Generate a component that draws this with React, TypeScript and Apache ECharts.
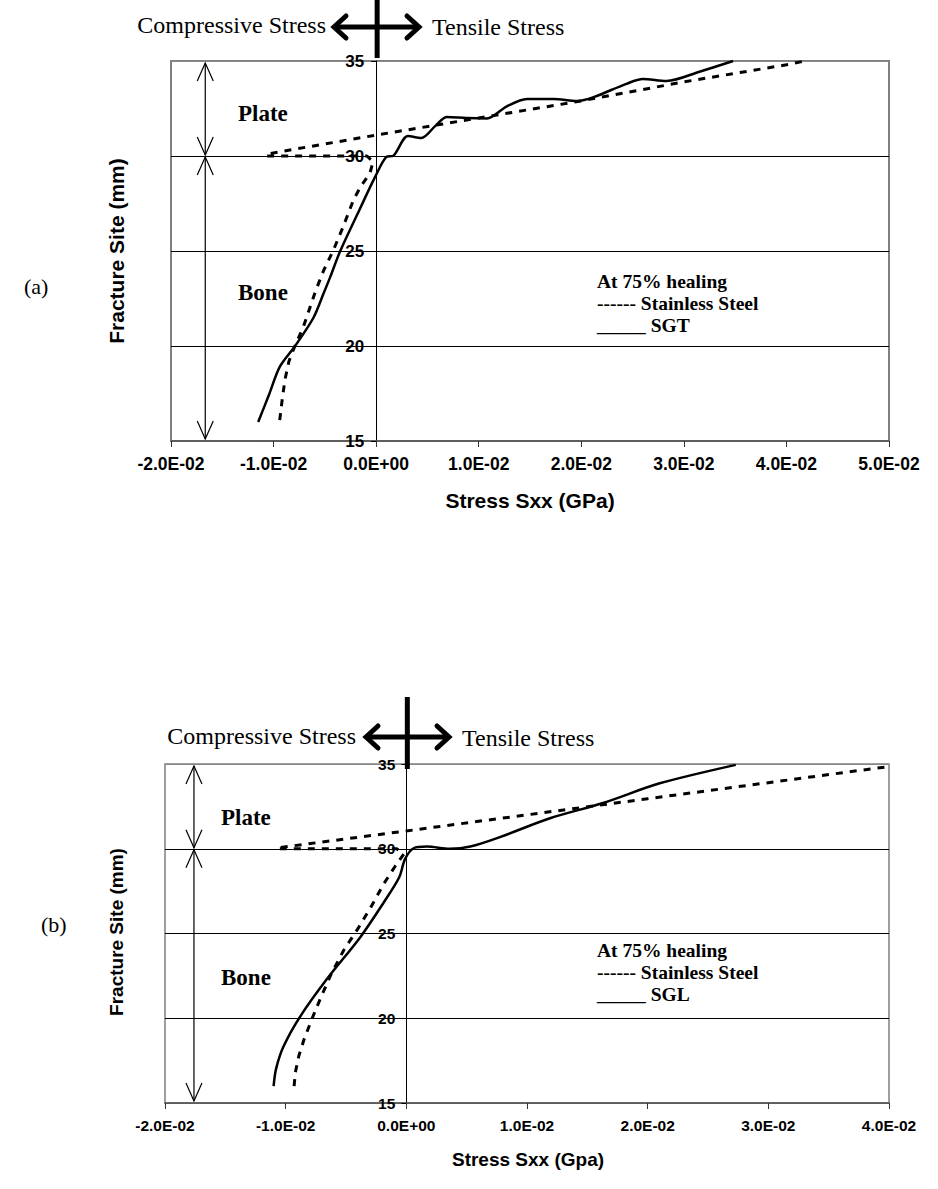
import React, { useEffect, useRef } from "react";
import * as echarts from "echarts";

// ---------- data (stress in GPa, fracture site in mm) ----------
const stainlessA: [number, number][] = [
  [-0.0094, 16.1], [-0.0092, 17.0], [-0.0089, 18.2], [-0.0085, 19.2], [-0.008, 19.9],
  [-0.0071, 21.0], [-0.0059, 22.9], [-0.0051, 24.0], [-0.0042, 25.0], [-0.0032, 26.3],
  [-0.0022, 27.7], [-0.0015, 28.4], [-0.0006, 29.1], [-0.0003, 29.7], [-0.0009, 30.0],
  [-0.0107, 30.0], [-0.0107, 30.1], [0.0, 31.1], [0.01, 32.0], [0.02, 32.9],
  [0.03, 33.9], [0.04, 34.8], [0.0418, 35.0],
];
const sgtA: [number, number][] = [
  [-0.0115, 16.0], [-0.0104, 17.5], [-0.0094, 18.9], [-0.0079, 20.0], [-0.0061, 21.5],
  [-0.0051, 22.8], [-0.0045, 23.6], [-0.0035, 25.0], [-0.0016, 27.2], [-0.0001, 28.9],
  [0.001, 29.95], [0.0017, 30.02], [0.0031, 31.05], [0.0044, 30.95], [0.0058, 31.6],
  [0.0069, 32.05], [0.0088, 32.0], [0.0108, 31.98], [0.0127, 32.6], [0.0147, 33.0],
  [0.0173, 33.0], [0.0196, 32.9], [0.0212, 33.1], [0.0244, 33.8], [0.026, 34.05],
  [0.0283, 33.95], [0.0316, 34.45], [0.0348, 35.0],
];
const stainlessB: [number, number][] = [
  [-0.0093, 16.0], [-0.0092, 16.8], [-0.0089, 17.8], [-0.0085, 18.7], [-0.0078, 20.0],
  [-0.0071, 21.2], [-0.0063, 22.5], [-0.0052, 24.0], [-0.004, 25.3], [-0.0029, 26.6],
  [-0.0019, 27.9], [-0.0009, 29.0], [-0.0002, 29.7], [-0.0008, 30.0], [-0.0107, 30.0],
  [-0.0107, 30.05], [0.0, 31.05], [0.01, 32.0], [0.02, 32.95], [0.03, 33.9], [0.04, 34.85],
];
const sglB: [number, number][] = [
  [-0.011, 16.0], [-0.0108, 17.0], [-0.0102, 18.3], [-0.0088, 20.1], [-0.0066, 22.3],
  [-0.0038, 24.8], [-0.0019, 26.8], [-0.0006, 28.3], [-0.0001, 29.4], [0.0006, 30.03],
  [0.0017, 30.13], [0.0036, 30.0], [0.0053, 30.13], [0.0078, 30.7], [0.0119, 31.8],
  [0.0163, 32.7], [0.021, 33.86], [0.0273, 34.95],
];

const legendA = ["At 75% healing", "------ Stainless Steel", "_____ SGT"];
const legendB = ["At 75% healing", "------ Stainless Steel", "_____ SGL"];
const xTitleA = "Stress Sxx (GPa)";
const xTitleB = "Stress Sxx (Gpa)";
const yTitle = "Fracture Site (mm)";

const SANS = '"Liberation Sans", Arial, sans-serif';
const SERIF = '"Liberation Serif", "Times New Roman", serif';

const fmtExp = (v: number) => {
  const s = v.toExponential(1);
  const [m, e] = s.split("e");
  const sign = e[0] === "-" ? "-" : "+";
  const d = e.replace(/^[+-]/, "").padStart(2, "0");
  return `${m}E${sign}${d}`;
};

const X_MIN = -0.02;
const gridA = { left: 171, top: 61, width: 718, height: 380 };
const gridB = { left: 165, top: 764, width: 724, height: 339 };
const X_MAX_A = 0.05;
const X_MAX_B = 0.04;

function xAxisFor(grid: number, max: number, size: number) {
  return {
    type: "value",
    gridIndex: grid,
    min: X_MIN,
    max,
    interval: 0.01,
    axisLine: { onZero: false, lineStyle: { color: "#555", width: 1.5 } },
    axisTick: { show: true, length: 6, lineStyle: { color: "#333" } },
    splitLine: { show: false },
    axisLabel: {
      formatter: fmtExp,
      color: "#000",
      fontWeight: "bold",
      fontFamily: SANS,
      fontSize: size,
      margin: 14,
    },
  };
}

// y axis shifted so that it sits on stress = 0
function yAxisFor(grid: number, size: number, offset: number, margin: number) {
  return {
    type: "value",
    gridIndex: grid,
    min: 15,
    max: 35,
    interval: 5,
    offset,
    axisLine: { show: true, onZero: false, lineStyle: { color: "#000", width: 1 } },
    axisTick: { show: true, length: 5, lineStyle: { color: "#000" } },
    splitLine: {
      show: true,
      lineStyle: { color: ["#777", "#000", "#000", "#000", "#888"], width: 1 },
    },
    axisLabel: {
      color: "#000",
      fontWeight: "bold",
      fontFamily: SANS,
      fontSize: size,
      margin,
    },
  };
}

const zeroOffset = (g: { width: number }, max: number) => -((0 - X_MIN) / (max - X_MIN)) * g.width;

const solidStyle = { color: "#000", width: 2.5, type: "solid" };
const dashStyle = { color: "#000", width: 3, type: [7, 7] };

export default function App() {
  const ref = useRef<HTMLDivElement>(null);

  useEffect(() => {
    if (!ref.current) return;
    const chart = echarts.init(ref.current, undefined, { renderer: "svg" });
    chart.setOption({
      animation: false,
      backgroundColor: "#fff",
      grid: [
        { ...gridA, show: true, borderColor: "#808080", borderWidth: 2, backgroundColor: "transparent" },
        { ...gridB, show: true, borderColor: "#808080", borderWidth: 1.5, backgroundColor: "transparent" },
      ],
      xAxis: [xAxisFor(0, X_MAX_A, 17.5), xAxisFor(1, X_MAX_B, 15.5)],
      yAxis: [
        yAxisFor(0, 17, zeroOffset(gridA, X_MAX_A), 12),
        yAxisFor(1, 15.5, zeroOffset(gridB, X_MAX_B), 11),
      ],
      series: [
        { type: "line", name: "Stainless Steel", xAxisIndex: 0, yAxisIndex: 0, data: stainlessA, symbol: "none", lineStyle: dashStyle, smooth: false },
        { type: "line", name: "SGT", xAxisIndex: 0, yAxisIndex: 0, data: sgtA, symbol: "none", lineStyle: solidStyle, smooth: 0.3 },
        { type: "line", name: "Stainless Steel", xAxisIndex: 1, yAxisIndex: 1, data: stainlessB, symbol: "none", lineStyle: dashStyle, smooth: false },
        { type: "line", name: "SGL", xAxisIndex: 1, yAxisIndex: 1, data: sglB, symbol: "none", lineStyle: solidStyle, smooth: 0.3 },
      ],
    });

    const px = (g: number, x: number, y: number) =>
      chart.convertToPixel({ gridIndex: g } as any, [x, y]) as number[];

    const text = (t: string, x: number, y: number, font: string, align = "left", rotation = 0) => ({
      type: "text",
      x,
      y,
      rotation,
      silent: true,
      style: {
        text: t,
        font,
        fill: "#000",
        align,
        textAlign: align,
        verticalAlign: "middle",
        textVerticalAlign: "middle",
      },
    });

    const thinArrow = (x: number, yA: number, yB: number) => {
      const st = { stroke: "#000", lineWidth: 1.2, fill: "none" };
      return [
        { type: "line", silent: true, shape: { x1: x, y1: yA, x2: x, y2: yB }, style: st },
        { type: "polyline", silent: true, shape: { points: [[x - 8, yA + 18], [x, yA], [x + 8, yA + 18]] }, style: st },
        { type: "polyline", silent: true, shape: { points: [[x - 8, yB - 18], [x, yB], [x + 8, yB - 18]] }, style: st },
      ];
    };

    const bigArrow = (cx: number, cy: number, xl: number, xr: number, yTop: number, yBot: number) => {
      const st = { stroke: "#000", lineWidth: 5, fill: "none", lineJoin: "miter", lineCap: "round" };
      return [
        { type: "line", silent: true, shape: { x1: cx, y1: yTop, x2: cx, y2: yBot }, style: { stroke: "#000", lineWidth: 5 } },
        { type: "line", silent: true, shape: { x1: xl + 3, y1: cy, x2: xr - 3, y2: cy }, style: { stroke: "#000", lineWidth: 5 } },
        { type: "polyline", silent: true, shape: { points: [[xl + 13, cy - 11], [xl + 1, cy], [xl + 13, cy + 11]] }, style: st },
        { type: "polyline", silent: true, shape: { points: [[xr - 13, cy - 11], [xr - 1, cy], [xr - 13, cy + 11]] }, style: st },
      ];
    };

    const a35 = px(0, 0, 35);
    const a30 = px(0, 0, 30);
    const a15 = px(0, 0, 15);
    const aArrX = px(0, -0.01666, 30)[0];
    const b35 = px(1, 0, 35);
    const b30 = px(1, 0, 30);
    const b15 = px(1, 0, 15);
    const bArrX = px(1, -0.0176, 30)[0];

    const gA = a30[1];
    const gB = b30[1];
    const LEG = `bold 19.5px ${SERIF}`;

    const elements: any[] = [
      // ---- chart (a)
      ...bigArrow(a35[0] + 1, 27, 333, 420, -4, a35[1] - 3),
      text("Compressive Stress", 326, 25, `24px ${SERIF}`, "right"),
      text("Tensile Stress", 432, 27, `24px ${SERIF}`, "left"),
      ...thinArrow(aArrX, a35[1] + 2, gA - 1),
      ...thinArrow(aArrX, gA + 1, a15[1] - 2),
      text("Plate", 238, 113, `bold 23px ${SERIF}`),
      text("Bone", 238, 292, `bold 23px ${SERIF}`),
      text(legendA[0], 597, 281, LEG),
      text(legendA[1], 597, 303, LEG),
      text(legendA[2], 597, 325, LEG),
      text("(a)", 24, 286, `22px ${SERIF}`),
      text(xTitleA, 530, 500, `bold 21px ${SANS}`, "center"),
      text(yTitle, 116, 251, `bold 21px ${SANS}`, "center", Math.PI / 2),
      // ---- chart (b)
      ...bigArrow(b35[0] + 1, 737, 365, 450, 697, b35[1] + 5),
      text("Compressive Stress", 356, 736, `24px ${SERIF}`, "right"),
      text("Tensile Stress", 462, 738, `24px ${SERIF}`, "left"),
      ...thinArrow(bArrX, b35[1] + 2, gB - 1),
      ...thinArrow(bArrX, gB + 1, b15[1] - 2),
      text("Plate", 221, 817, `bold 23px ${SERIF}`),
      text("Bone", 221, 977, `bold 23px ${SERIF}`),
      text(legendB[0], 597, 950, LEG),
      text(legendB[1], 597, 972, LEG),
      text(legendB[2], 597, 994, LEG),
      text("(b)", 41, 924, `22px ${SERIF}`),
      text(xTitleB, 528, 1159, `bold 19px ${SANS}`, "center"),
      text(yTitle, 116, 932, `bold 19px ${SANS}`, "center", Math.PI / 2),
    ];

    chart.setOption({ graphic: { elements } });

    return () => chart.dispose();
  }, []);

  return (
    <div
      ref={ref}
      style={{ position: "absolute", left: 0, top: 0, width: 938, height: 1189, background: "#fff" }}
    />
  );
}
